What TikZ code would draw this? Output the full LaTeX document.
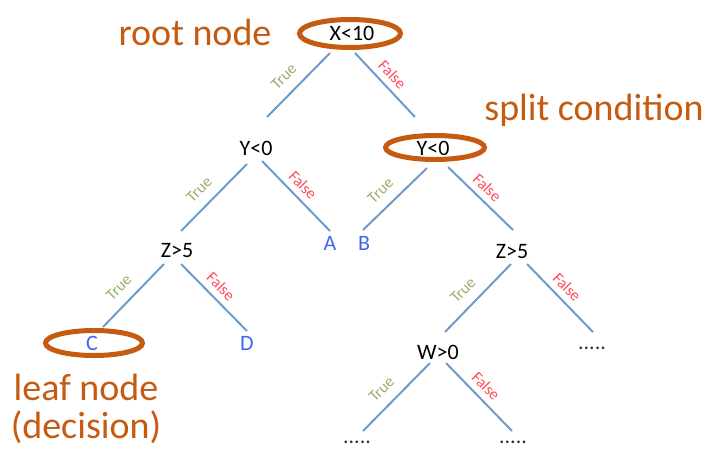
\documentclass[tikz,border=0pt]{standalone}
\usepackage{fontspec}
\setmainfont{Carlito}
\definecolor{ringc}{HTML}{C55A11}
\definecolor{edgec}{HTML}{6F9BCB}
\definecolor{truec}{HTML}{98AE6C}
\definecolor{falsec}{HTML}{FF4A5C}
\definecolor{leafc}{HTML}{3F66F0}
\tikzset{
  cond/.style={inner sep=0pt, font=\fontsize{22}{22}\selectfont, text=black},
  leaf/.style={inner sep=0pt, font=\fontsize{22}{22}\selectfont, text=leafc},
  more/.style={inner sep=0pt, font=\fontsize{22}{22}\selectfont, text=black!80},
  branch/.style={draw=edgec, line width=2pt},
  ring/.style={draw=ringc, line width=5pt},
  note/.style={inner sep=0pt, font=\fontsize{38}{38}\selectfont, text=ringc, anchor=base},
  tlab/.style={inner sep=0pt, font=\fontsize{16}{16}\selectfont, text=truec, sloped, pos=0.55, above=10pt},
  flab/.style={inner sep=0pt, font=\fontsize{16}{16}\selectfont, text=falsec, sloped, pos=0.47, above=6pt},
}
\begin{document}
\begin{tikzpicture}[x=1pt, y=-1pt]
\useasboundingbox (0,0) rectangle (708,450);
% nodes
\node[cond] (root) at (352,33) {X<10};
\node[cond] (y1) at (256,148) {Y<0};
\node[cond] (y2) at (433,148) {Y<0};
\node[cond] (z1) at (177,251) {Z>5};
\node[cond] (z2) at (512,252) {Z>5};
\node[cond] (w) at (438,352) {W>0};
\node[leaf] (a) at (330,243) {A};
\node[leaf] (b) at (364,243) {B};
\node[leaf] (c) at (92,343) {C};
\node[leaf] (d) at (247,343) {D};
\node[more] (m1) at (592,348) {.....};
\node[more] (m2) at (357,442) {.....};
\node[more] (m3) at (513,442) {.....};
% highlight rings
\draw[ring] (350,33.5) ellipse [x radius=50.5pt, y radius=14pt];
\draw[ring] (435,147.5) ellipse [x radius=49.5pt, y radius=12pt];
\draw[ring] (94,343) ellipse [x radius=48.5pt, y radius=12.5pt];
% annotations
\node[note] (rootnote) at (195,45) {root node};
\node[note] (splitnote) at (594,120) {split condition};
\node[note] (leafnote1) at (86,400) {leaf node};
\node[note] (leafnote2) at (86,438) {(decision)};
% branches
\draw[branch] ([shift={(-22,20)}]root.center) -- ([shift={(11,-31)}]y1.center) node[tlab] {True};
\draw[branch] ([shift={(3,20)}]root.center) -- ([shift={(-18,-31)}]y2.center) node[flab] {False};
\draw[branch] ([shift={(-9,16)}]y1.center) -- ([shift={(4,-20)}]z1.center) node[tlab] {True};
\draw[branch] ([shift={(6,13)}]y1.center) -- ([shift={(0,-12)}]a.center) node[flab] {False};
\draw[branch] ([shift={(-6,20)}]y2.center) -- ([shift={(-1,-13)}]b.center) node[tlab] {True};
\draw[branch] ([shift={(15,19)}]y2.center) -- ([shift={(1,-22)}]z2.center) node[flab] {False};
\draw[branch] ([shift={(-13,13)}]z1.center) -- ([shift={(11,-16)}]c.center) node[tlab] {True};
\draw[branch] ([shift={(4,13)}]z1.center) -- ([shift={(0,-12)}]d.center) node[flab] {False};
\draw[branch] ([shift={(-1,12)}]z2.center) -- ([shift={(7,-20)}]w.center) node[tlab] {True};
\draw[branch] ([shift={(15,12)}]z2.center) -- ([shift={(1,-16)}]m1.center) node[flab] {False};
\draw[branch] ([shift={(-8,11)}]w.center) -- ([shift={(6,-11)}]m2.center) node[tlab] {True};
\draw[branch] ([shift={(8,11)}]w.center) -- ([shift={(-1,-11)}]m3.center) node[flab] {False};
\end{tikzpicture}
\end{document}
